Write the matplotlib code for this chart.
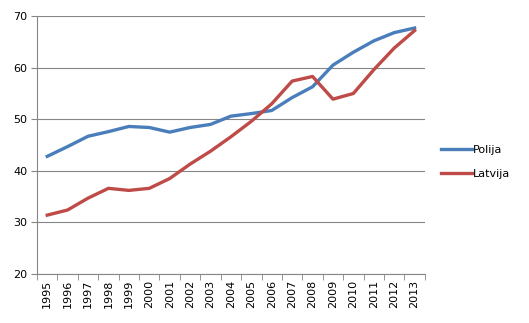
import matplotlib
matplotlib.use("Agg")
from matplotlib import pyplot as plt
import numpy as np

years = [str(y) for y in range(1995, 2014)]
polija = [42.8, 44.7, 46.7, 47.6, 48.6, 48.4, 47.5, 48.4, 49.0, 50.6,
          51.1, 51.7, 54.2, 56.3, 60.5, 63.0, 65.2, 66.8, 67.7]
latvija = [31.4, 32.4, 34.7, 36.6, 36.2, 36.6, 38.5, 41.3, 43.8, 46.6,
           49.6, 53.0, 57.4, 58.3, 53.9, 55.0, 59.6, 63.8, 67.2]

plt.rcParams['font.family'] = ['DejaVu Sans']

fig = plt.figure(figsize=(5.29, 3.23), dpi=100)
ax = fig.add_axes([0.070, 0.152, 0.733, 0.798])

x = np.arange(len(years))
ax.plot(x, polija, color="#4A7EBB", lw=2.4, label="Polija")
ax.plot(x, latvija, color="#BE4B48", lw=2.4, label="Latvija")

ax.set_xlim(-0.5, len(years) - 0.5)
ax.set_ylim(20, 70)
ax.set_yticks(range(20, 71, 10))
ax.yaxis.grid(True, color="#868686", lw=0.8)
ax.set_axisbelow(True)

ax.set_xticks(x)
ax.set_xticklabels(years, rotation=90, fontsize=8)
ax.set_xticks(np.arange(-0.5, len(years)), minor=True)
ax.tick_params(axis="x", which="major", length=0, pad=4)
ax.tick_params(axis="x", which="minor", length=4, color="#868686")
ax.tick_params(axis="y", length=4, color="#868686", labelsize=8, pad=3)

for s in ["top", "right"]:
    ax.spines[s].set_visible(False)
for s in ["left", "bottom"]:
    ax.spines[s].set_color("#868686")
    ax.spines[s].set_linewidth(0.8)

ax.legend(loc="center left", bbox_to_anchor=(1.03, 0.435), frameon=False,
          fontsize=8, handlelength=2.8, handletextpad=0.1, labelspacing=1.3,
          borderaxespad=0)

fig.savefig("out.png", dpi=100)
